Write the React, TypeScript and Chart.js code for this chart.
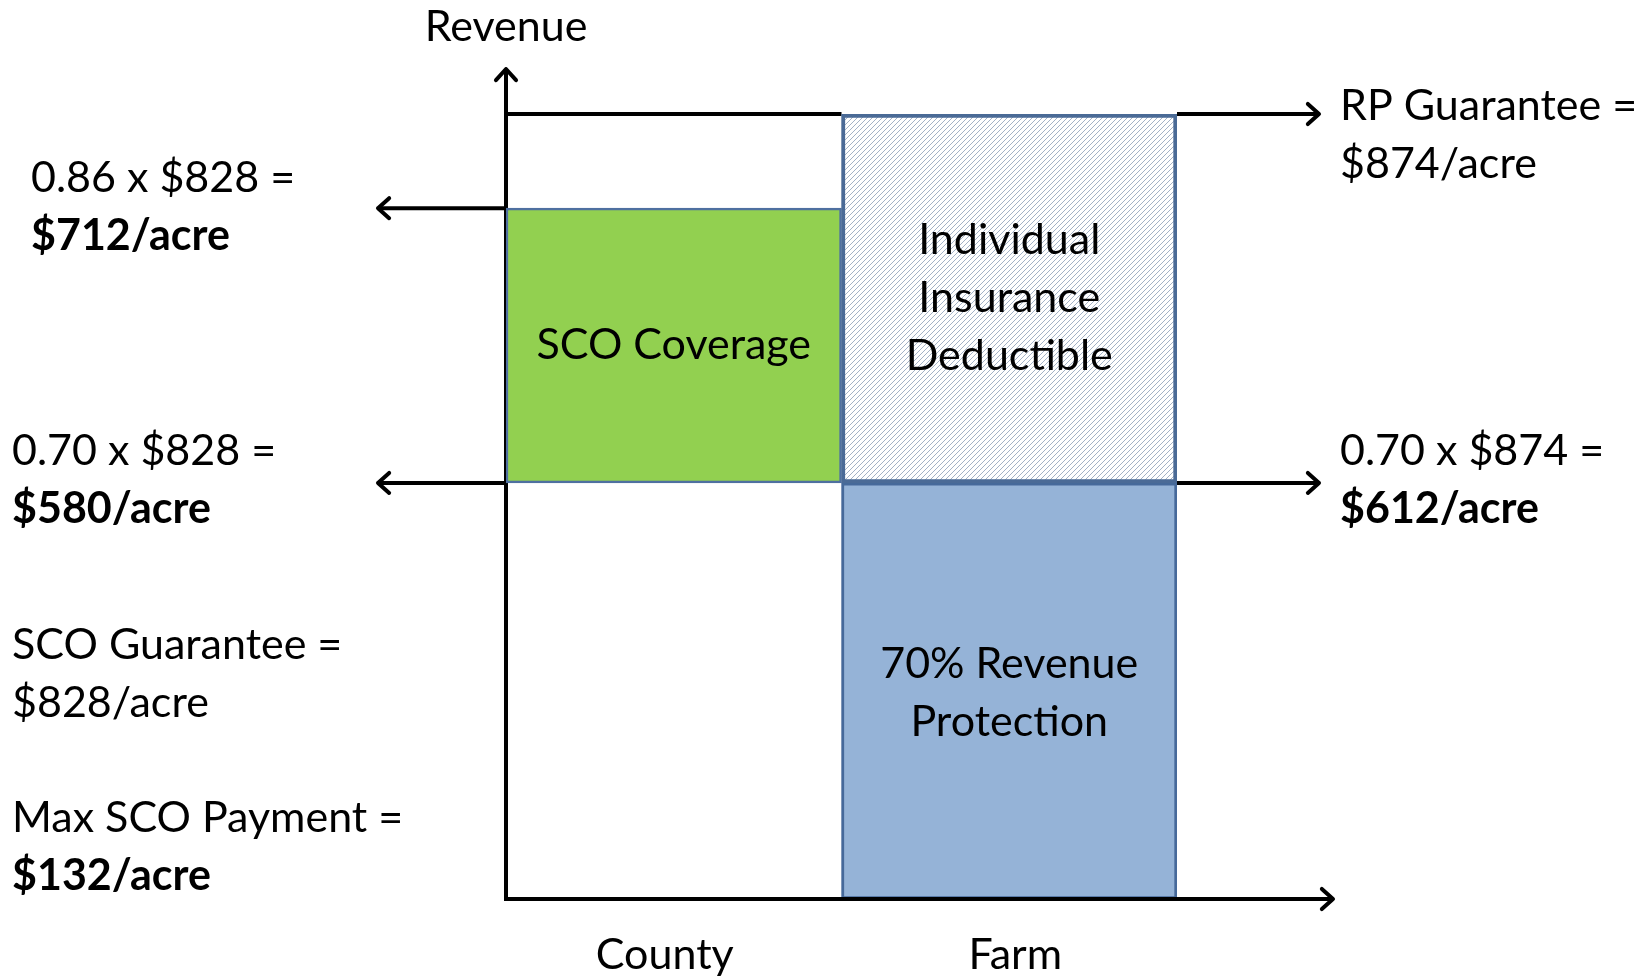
import React, { useEffect, useRef } from 'react';
import { Chart, registerables } from 'chart.js';

Chart.register(...registerables);

// ---------- data (schematic revenue levels, 0..100 = 0..RP guarantee) ----------
const CATEGORIES = ['County', 'Farm'];
const SCO_COVERAGE: ([number, number] | null)[] = [[53, 88], null];
const DEDUCTIBLE: ([number, number] | null)[] = [null, [53, 100]];
const RP_PROTECTION: ([number, number] | null)[] = [null, [0, 53]];

const LEVEL_RP = 100;   // RP guarantee = $874/acre
const LEVEL_SCO86 = 88; // 0.86 x $828 = $712/acre
const LEVEL_70 = 53;    // 0.70 x $828 / 0.70 x $874

const BOX_TEXT_SCO = ['SCO Coverage'];
const BOX_TEXT_DED = ['Individual', 'Insurance', 'Deductible'];
const BOX_TEXT_RP = ['70% Revenue', 'Protection'];

const LEFT_NOTE_86 = ['0.86 x $828 =', '$712/acre'];
const LEFT_NOTE_70 = ['0.70 x $828 =', '$580/acre'];
const NOTE_SCO_GUAR = ['SCO Guarantee =', '$828/acre'];
const NOTE_MAX_PAY = ['Max SCO Payment =', '$132/acre'];
const RIGHT_NOTE_RP = ['RP Guarantee =', '$874/acre'];
const RIGHT_NOTE_70 = ['0.70 x $874 =', '$612/acre'];
const Y_AXIS_TITLE = 'Revenue';

// ---------- style ----------
const FONT = 'Lato, "Open Sans", sans-serif';
const FS = 43;
const LINE_H = 58;
const BLACK = '#000000';

function chevron(ctx: CanvasRenderingContext2D, x: number, y: number, dx: number, dy: number) {
  const L = 15;
  const a = (42 * Math.PI) / 180;
  const bx = -dx, by = -dy;
  ctx.beginPath();
  for (const s of [-1, 1]) {
    const c = Math.cos(a * s), sn = Math.sin(a * s);
    const rx = bx * c - by * sn;
    const ry = bx * sn + by * c;
    ctx.moveTo(x + rx * L, y + ry * L);
    ctx.lineTo(x, y);
  }
  ctx.stroke();
}

function hline(ctx: CanvasRenderingContext2D, x1: number, x2: number, y: number) {
  ctx.beginPath();
  ctx.moveTo(x1, y);
  ctx.lineTo(x2, y);
  ctx.stroke();
}

function textLines(ctx: CanvasRenderingContext2D, lines: string[], x: number, cy: number, align: CanvasTextAlign, bold: boolean[]) {
  ctx.textAlign = align;
  ctx.textBaseline = 'middle';
  ctx.fillStyle = BLACK;
  const start = cy - ((lines.length - 1) * LINE_H) / 2;
  lines.forEach((t, i) => {
    ctx.font = `${bold[i] ? 'bold ' : ''}${FS}px ${FONT}`;
    ctx.fillText(t, x, start + i * LINE_H);
  });
}

const diagramPlugin = {
  id: 'diagram',
  beforeDatasetsDraw(chart: any) {
    const { ctx, chartArea } = chart;
    const ys = chart.scales.y;
    const xs = chart.scales.x;
    const xL = chartArea.left;
    const xR = chartArea.right;
    const xMid = (xs.getPixelForValue(0) + xs.getPixelForValue(1)) / 2;
    ctx.save();
    ctx.strokeStyle = BLACK;
    ctx.lineWidth = 4;
    ctx.lineCap = 'butt';
    // y axis
    const y0 = ys.getPixelForValue(0);
    ctx.beginPath();
    ctx.moveTo(xL, y0 + 2);
    ctx.lineTo(xL, 69);
    ctx.stroke();
    ctx.lineCap = 'round';
    chevron(ctx, xL, 69, 0, -1);
    ctx.lineCap = 'butt';
    // RP guarantee line
    const yRP = ys.getPixelForValue(LEVEL_RP);
    hline(ctx, xL, xMid, yRP);
    hline(ctx, xR, 1319, yRP);
    ctx.lineCap = 'round';
    chevron(ctx, 1319, yRP, 1, 0);
    ctx.lineCap = 'butt';
    // 0.86 level
    const y86 = ys.getPixelForValue(LEVEL_SCO86);
    hline(ctx, 378, xL, y86);
    ctx.lineCap = 'round';
    chevron(ctx, 378, y86, -1, 0);
    ctx.lineCap = 'butt';
    // 0.70 level
    const y70 = ys.getPixelForValue(LEVEL_70);
    hline(ctx, 378, xL, y70);
    hline(ctx, xR, 1319, y70);
    ctx.lineCap = 'round';
    chevron(ctx, 378, y70, -1, 0);
    chevron(ctx, 1319, y70, 1, 0);
    ctx.restore();
  },
  afterDatasetsDraw(chart: any) {
    const { ctx, chartArea } = chart;
    const ys = chart.scales.y;
    const xs = chart.scales.x;
    const xL = chartArea.left;
    const y0 = ys.getPixelForValue(0);
    ctx.save();
    ctx.strokeStyle = BLACK;
    ctx.lineWidth = 4;
    hline(ctx, xL - 2, 1333, y0);
    ctx.lineCap = 'round';
    chevron(ctx, 1333, y0, 1, 0);

    const cCounty = xs.getPixelForValue(0);
    const cFarm = xs.getPixelForValue(1);
    // box texts
    const sco = SCO_COVERAGE[0]!;
    textLines(ctx, BOX_TEXT_SCO, cCounty, ys.getPixelForValue((sco[0] + sco[1]) / 2), 'center', [false]);
    const ded = DEDUCTIBLE[1]!;
    textLines(ctx, BOX_TEXT_DED, cFarm, ys.getPixelForValue((ded[0] + ded[1]) / 2), 'center', [false, false, false]);
    const rp = RP_PROTECTION[1]!;
    textLines(ctx, BOX_TEXT_RP, cFarm, ys.getPixelForValue((rp[0] + rp[1]) / 2) + 2, 'center', [false, false]);

    // category labels
    textLines(ctx, [CATEGORIES[0]], cCounty - 9, 955, 'center', [false]);
    textLines(ctx, [CATEGORIES[1]], cFarm + 6, 955, 'center', [false]);

    // axis title
    textLines(ctx, [Y_AXIS_TITLE], xL, 27, 'center', [false]);

    // left notes
    textLines(ctx, LEFT_NOTE_86, 31, ys.getPixelForValue(LEVEL_SCO86) - 1, 'left', [false, true]);
    textLines(ctx, LEFT_NOTE_70, 12, ys.getPixelForValue(LEVEL_70) - 3, 'left', [false, true]);
    textLines(ctx, NOTE_SCO_GUAR, 12, 674, 'left', [false, false]);
    textLines(ctx, NOTE_MAX_PAY, 12, 847, 'left', [false, true]);
    // right notes
    textLines(ctx, RIGHT_NOTE_RP, 1340, ys.getPixelForValue(LEVEL_RP) + 21, 'left', [false, false]);
    textLines(ctx, RIGHT_NOTE_70, 1340, ys.getPixelForValue(LEVEL_70) - 3, 'left', [false, true]);
    ctx.restore();
  },
};

function makeHatch(): CanvasPattern | string {
  const c = document.createElement('canvas');
  c.width = 5;
  c.height = 5;
  const g = c.getContext('2d');
  if (!g) return '#E2E7EE';
  g.fillStyle = '#FFFFFF';
  g.fillRect(0, 0, 5, 5);
  g.strokeStyle = '#A3B2C6';
  g.lineWidth = 1;
  g.beginPath();
  g.moveTo(-1, 6);
  g.lineTo(6, -1);
  g.moveTo(-1, 1);
  g.lineTo(1, -1);
  g.moveTo(4, 6);
  g.lineTo(6, 4);
  g.stroke();
  return g.createPattern(c, 'repeat') || '#E2E7EE';
}

export default function App() {
  const canvasRef = useRef<HTMLCanvasElement | null>(null);

  useEffect(() => {
    document.body.style.margin = '0';
    const canvas = canvasRef.current;
    if (!canvas) return;
    const hatch = makeHatch();
    const common = { barPercentage: 1, categoryPercentage: 1, borderSkipped: false as const };
    const chart = new Chart(canvas, {
      type: 'bar',
      data: {
        labels: CATEGORIES,
        datasets: [
          {
            label: 'Individual Insurance Deductible',
            data: DEDUCTIBLE as any,
            backgroundColor: hatch as any,
            borderColor: '#4A6A96',
            borderWidth: 4,
            ...common,
          },
          {
            label: '70% Revenue Protection',
            data: RP_PROTECTION as any,
            backgroundColor: '#95B3D7',
            borderColor: '#46699A',
            borderWidth: 3,
            ...common,
          },
          {
            label: 'SCO Coverage',
            data: SCO_COVERAGE as any,
            backgroundColor: '#92D050',
            borderColor: '#4F70A0',
            borderWidth: 2.5,
            ...common,
          },
        ],
      },
      options: {
        animation: false,
        responsive: true,
        maintainAspectRatio: false,
        devicePixelRatio: 1,
        layout: { padding: { left: 506, right: 475, top: 114, bottom: 78 } },
        plugins: { legend: { display: false }, tooltip: { enabled: false }, title: { display: false } },
        scales: {
          x: { type: 'category', display: false, stacked: true, offset: true },
          y: { type: 'linear', display: false, stacked: false, min: 0, max: LEVEL_RP },
        },
      },
      plugins: [diagramPlugin as any],
    });
    return () => chart.destroy();
  }, []);

  return (
    <div style={{ position: 'fixed', left: 0, top: 0, width: 1652, height: 977, background: '#FFFFFF' }}>
      <canvas ref={canvasRef} />
    </div>
  );
}
